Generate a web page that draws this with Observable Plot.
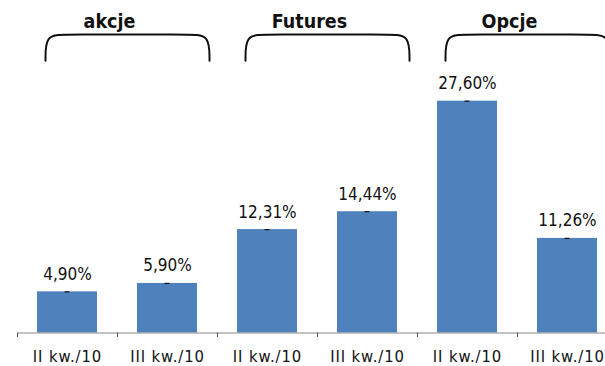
<!DOCTYPE html>
<html>
<head>
<meta charset="utf-8">
<script src="https://cdn.jsdelivr.net/npm/d3@7"></script>
<script src="https://cdn.jsdelivr.net/npm/@observablehq/plot@0.6"></script>
<style>
  html, body { margin: 0; padding: 0; background: #fff; }
  #chart svg { font-family: "DejaVu Sans Condensed", "DejaVu Sans", sans-serif; font-stretch: condensed; }
  #chart g[font-size="16.5"] text { letter-spacing: 0.9px; }
</style>
</head>
<body>
<div id="chart"></div>
<script>
// ---- data ----
const categories = ["II kw./10", "III kw./10", "II kw./10", "III kw./10", "II kw./10", "III kw./10"];
const values = [4.90, 5.90, 12.31, 14.44, 27.60, 11.26];
const groupNames = ["akcje", "Futures", "Opcje"];
const groupFirst = [0, 2, 4];
const groupLast = [1, 3, 5];

const bars = categories.map((c, i) => ({i, label: c, value: values[i]}));
const fmt = v => v.toFixed(2).replace(".", ",") + "%";
const boundaries = d3.range(categories.length + 1).map(k => k - 0.5);

// brackets above each group (decorative)
const yBot = 32.4, yTop = 35.55;
const bracketPts = [];
groupNames.forEach((g, k) => {
  const x0 = groupFirst[k] - 0.22, x1 = groupLast[k] + 0.42;
  [[x0, yBot], [x0, yBot], [x0, yTop], [x0 + 0.2, yTop], [x1 - 0.2, yTop], [x1, yTop], [x1, yBot], [x1, yBot]]
    .forEach(([x, y]) => bracketPts.push({g, x, y}));
});
const groupLabels = groupNames.map((g, k) => ({g, x: (groupFirst[k] + groupLast[k]) / 2 - 0.08}));

const font = "DejaVu Sans Condensed, DejaVu Sans, sans-serif";

const chart = Plot.plot({
  width: 605,
  height: 366,
  margin: 0,
  x: {type: "linear", domain: [-0.5, categories.length - 0.5], range: [17, 617], axis: null},
  y: {type: "linear", domain: [0, 36], range: [332.5, 332.5 - 36 * 8.4], axis: null},
  marks: [
    Plot.rectY(bars, {x1: d => d.i - 0.3, x2: d => d.i + 0.3, y1: 0, y2: "value", fill: "#4f81bd"}),
    Plot.ruleY(bars, {x1: d => d.i - 0.025, x2: d => d.i + 0.025, y: "value", stroke: "#111", strokeWidth: 1.2}),
    Plot.ruleY([0], {x1: () => -0.5, x2: () => categories.length - 0.5, stroke: "#868686", strokeWidth: 1.2}),
    Plot.ruleX(boundaries, {x: d => d, y1: () => 0, y2: () => -0.55, stroke: "#555", strokeWidth: 1}),
    Plot.text(bars, {x: "i", y: "value", text: d => fmt(d.value), lineAnchor: "bottom", dy: -12,
      fontSize: 17, fontFamily: font, fill: "#111"}),
    Plot.text(bars, {x: "i", y: () => 0, text: "label", lineAnchor: "middle", dy: 24,
      fontSize: 16.5, fontFamily: font, fill: "#111"}),
    Plot.line(bracketPts, {x: "x", y: "y", z: "g", curve: "basis", stroke: "#111", strokeWidth: 2}),
    Plot.text(groupLabels, {x: "x", y: () => 37, text: "g", lineAnchor: "middle",
      fontSize: 19.5, fontWeight: "bold", fontFamily: font, fill: "#111"})
  ]
});
document.getElementById("chart").appendChild(chart);
</script>
</body>
</html>
